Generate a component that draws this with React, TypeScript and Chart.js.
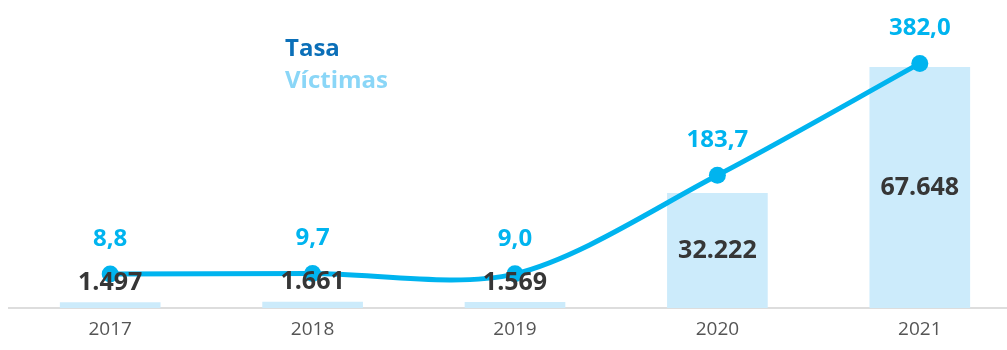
import React, { useEffect, useRef } from "react";
import { Chart, registerables } from "chart.js";

Chart.register(...registerables);

const years = ["2017", "2018", "2019", "2020", "2021"];
const victimas = [1497, 1661, 1569, 32222, 67648];
const tasa = [8.8, 9.7, 9.0, 183.7, 382.0];
const victimasLabels = ["1.497", "1.661", "1.569", "32.222", "67.648"];
const tasaLabels = ["8,8", "9,7", "9,0", "183,7", "382,0"];
const legendItems = ["Tasa", "Víctimas"];

const FONT = "'Open Sans', 'Noto Sans', sans-serif";
const LINE_COLOR = "#00B4EF";
const BAR_COLOR = "#CCEBFB";

const labelsPlugin = {
  id: "customLabels",
  afterDatasetsDraw(chart: any) {
    const ctx = chart.ctx;
    ctx.save();
    // bar labels
    const barMeta = chart.getDatasetMeta(0);
    ctx.font = `700 25px ${FONT}`;
    ctx.fillStyle = "#363636";
    ctx.textAlign = "center";
    ctx.textBaseline = "middle";
    barMeta.data.forEach((bar: any, i: number) => {
      const h = bar.base - bar.y;
      const y = h > 50 ? (bar.y + bar.base) / 2 : bar.y - 20;
      ctx.fillText(victimasLabels[i], bar.x, y);
    });
    // line labels
    const lineMeta = chart.getDatasetMeta(1);
    ctx.font = `700 24px ${FONT}`;
    ctx.fillStyle = LINE_COLOR;
    lineMeta.data.forEach((pt: any, i: number) => {
      ctx.fillText(tasaLabels[i], pt.x, pt.y - 35);
    });
    // legend
    ctx.textAlign = "left";
    ctx.textBaseline = "alphabetic";
    ctx.font = `700 24px ${FONT}`;
    ctx.fillStyle = "#0B6FB8";
    ctx.fillText(legendItems[0], 285, 56);
    ctx.fillStyle = "#8AD6F7";
    ctx.fillText(legendItems[1], 285, 88);
    ctx.restore();
  },
};

export default function App() {
  const canvasRef = useRef<HTMLCanvasElement | null>(null);

  useEffect(() => {
    if (!canvasRef.current) return;
    const chart = new Chart(canvasRef.current, {
      type: "bar",
      data: {
        labels: years,
        datasets: [
          {
            type: "bar",
            label: "Víctimas",
            data: victimas,
            backgroundColor: BAR_COLOR,
            borderWidth: 0,
            barThickness: 100,
            yAxisID: "y",
            order: 2,
          },
          {
            type: "line",
            label: "Tasa",
            data: tasa,
            borderColor: LINE_COLOR,
            backgroundColor: LINE_COLOR,
            borderWidth: 5,
            pointRadius: 8.5,
            pointHoverRadius: 8.5,
            pointBackgroundColor: LINE_COLOR,
            pointBorderWidth: 0,
            tension: 0.3,
            yAxisID: "y1",
            order: 1,
          },
        ],
      },
      options: {
        responsive: false,
        animation: false,
        layout: { padding: { left: 9, right: 9, top: 0, bottom: 0 } },
        plugins: {
          legend: { display: false },
          tooltip: { enabled: false },
          title: { display: false },
        },
        scales: {
          x: {
            offset: true,
            grid: { display: false, drawTicks: false },
            border: { display: true, color: "#DDDDDD", width: 2 },
            ticks: {
              color: "#555555",
              padding: 10,
              font: { family: FONT, size: 19, weight: "400" },
            },
            afterFit(scale: any) {
              scale.height = 42;
            },
          },
          y: {
            display: false,
            min: 0,
            max: 84209,
          },
          y1: {
            display: false,
            min: -51.6,
            max: 479.4,
          },
        },
      },
      plugins: [labelsPlugin],
    } as any);
    return () => chart.destroy();
  }, []);

  return (
    <div
      style={{
        position: "fixed",
        left: 0,
        top: 0,
        width: 1007,
        height: 350,
        overflow: "hidden",
        background: "#fff",
      }}
    >
      <canvas ref={canvasRef} width={1030} height={350} style={{ display: "block" }} />
    </div>
  );
}
